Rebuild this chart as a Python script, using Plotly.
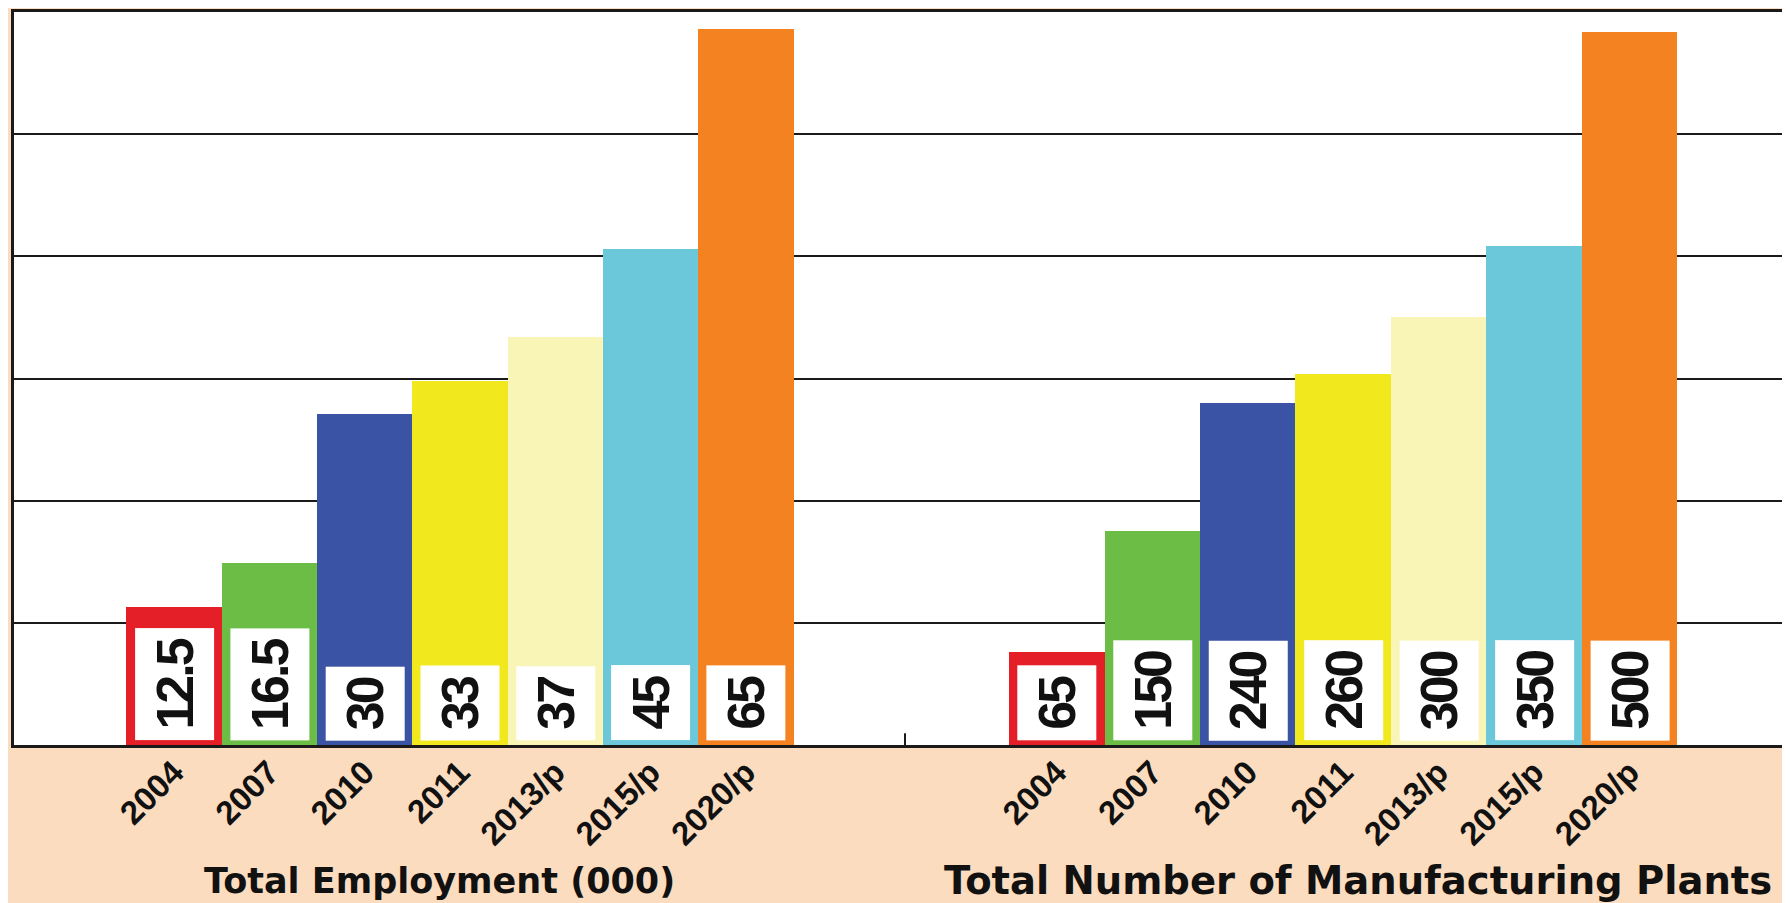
import plotly.graph_objects as go

categories = ["2004", "2007", "2010", "2011", "2013/p", "2015/p", "2020/p"]
employment = [12.5, 16.5, 30, 33, 37, 45, 65]
plants = [65, 150, 240, 260, 300, 350, 500]
employment_labels = ["12.5", "16.5", "30", "33", "37", "45", "65"]
plant_labels = ["65", "150", "240", "260", "300", "350", "500"]
bar_colors = ["#E51F27", "#6CBD45", "#3A53A4", "#F1E81E", "#F9F5B6", "#6AC8DA", "#F58220"]
titles = ["Total Employment (000)", "Total Number of Manufacturing Plants"]
y_max = [66.5, 514]

BG = "#FCDCBE"
LINE = "#1c1a18"
split = 0.5017
label_font = dict(family="Liberation Sans, Arial, sans-serif", size=52, color="#111")

fig = go.Figure()
fig.add_trace(go.Bar(x=categories, y=employment, marker=dict(color=bar_colors, line=dict(width=0)),
                     xaxis="x", yaxis="y", showlegend=False, hoverinfo="skip"))
fig.add_trace(go.Bar(x=categories, y=plants, marker=dict(color=bar_colors, line=dict(width=0)),
                     xaxis="x2", yaxis="y2", showlegend=False, hoverinfo="skip"))

annotations = []
for ax, labels in (("", employment_labels), ("2", plant_labels)):
    for i, lab in enumerate(labels):
        annotations.append(dict(
            x=i, y=0, xref="x" + ax, yref="y" + ax,
            text='<b><span style="letter-spacing:-3px">' + lab + '</span></b>',
            showarrow=False, textangle=-90,
            xanchor="center", yanchor="bottom", yshift=4,
            bgcolor="white", borderpad=10, height=58, font=label_font,
        ))

annotations.append(dict(x=0.477, xref="x domain", y=0, yref="paper", yanchor="top", yshift=-114,
                        xanchor="center", showarrow=False, text="<b>" + titles[0] + "</b>",
                        font=dict(family="DejaVu Sans, sans-serif", size=35, color="#111")))
annotations.append(dict(x=0.512, xref="x2 domain", y=0, yref="paper", yanchor="top", yshift=-111,
                        xanchor="center", showarrow=False, text="<b>" + titles[1] + "</b>",
                        font=dict(family="DejaVu Sans, sans-serif", size=38.5, color="#111")))

tick_font = dict(family="Liberation Sans, Arial, sans-serif", size=33, color="#111")

def xaxis(domain, rng):
    return dict(domain=domain, range=rng, type="category", tickangle=-45,
                tickfont=tick_font, tickprefix="<b>", ticksuffix="</b>", ticklabelstandoff=-8,
                showline=True, mirror=True, linecolor=LINE, linewidth=2.5,
                ticks="", showgrid=False, zeroline=False)

def yaxis(anchor, ymax, showline):
    return dict(anchor=anchor, range=[0, ymax], tickvals=[ymax / 6 * k for k in range(1, 6)],
                showticklabels=False, ticks="", showgrid=True, gridcolor=LINE, gridwidth=2,
                zeroline=False, showline=showline, linecolor=LINE, linewidth=3)

fig.update_layout(
    width=1782, height=895,
    margin=dict(l=6, r=0, t=4, b=158),
    paper_bgcolor=BG, plot_bgcolor="white",
    bargap=0,
    xaxis=xaxis([0, split], [-1.68, 7.67]),
    xaxis2=xaxis([split, 1], [-1.59, 7.68]),
    yaxis=yaxis("x", y_max[0], True),
    yaxis2=yaxis("x2", y_max[1], False),
    annotations=annotations,
    shapes=[dict(type="line", xref="paper", yref="paper", x0=split, x1=split, y0=0, y1=0.016,
                 line=dict(color=LINE, width=2))],
)

fig.write_html("out.html")
